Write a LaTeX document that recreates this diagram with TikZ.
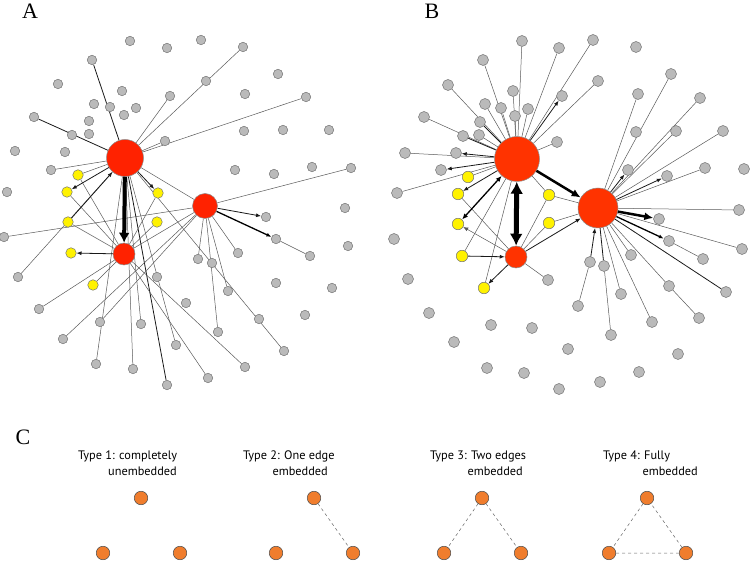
\documentclass[tikz,border=0pt]{standalone}
\usepackage{fontspec}
\setmainfont{Liberation Serif}
\newfontfamily\typefont{PT Sans}
\usetikzlibrary{arrows.meta,backgrounds}
\definecolor{hubA}{RGB}{255,34,0}
\definecolor{hubB}{RGB}{255,51,0}
\definecolor{motif}{RGB}{240,125,45}

\begin{document}
\begin{tikzpicture}[x=1pt, y=-1pt,
    gn/.style={circle, draw=black!55, fill=black!27, line width=0.5pt, inner sep=0pt, minimum size=9.5pt},
    gb/.style={gn, minimum size=11pt},
    yn/.style={circle, draw=black!55, fill=yellow, line width=0.5pt, inner sep=0pt, minimum size=10.5pt},
    yb/.style={yn, minimum size=11.5pt},
    rn/.style={circle, draw=black!45, line width=0.5pt, inner sep=0pt},
    on/.style={circle, draw=black!70, fill=motif, line width=0.5pt, inner sep=0pt, minimum size=13.5pt},
    ed/.style={draw=black!65, line width=0.5pt},
    dk/.style={draw=black!90, line width=0.8pt},
    ar/.style={-{Latex[length=5pt,width=4pt]}},
    dsh/.style={draw=black!60, line width=0.5pt, dash pattern=on 3pt off 3pt},
    lbl/.style={font=\fontsize{22}{22}\selectfont},
    typ/.style={font=\typefont\fontsize{12.3}{16}\selectfont, inner sep=0pt}
  ]
  \useasboundingbox (0,0) rectangle (750,561);

  % panel labels
  \node[lbl] (labA) at (30,11) {A};
  \node[lbl] (labB) at (432,11) {B};
  \node[lbl] (labC) at (23,437) {C};

  % ---- panel A ----
  \foreach \n/\x/\y in {1/130/41, 2/167/48, 3/92/60, 4/58/84, 5/122/91, 6/170/96,
      7/94/104, 8/110/107, 9/136/108, 10/124/115, 11/34/117, 12/89/121, 13/72/135,
      14/89/134, 15/165/141, 16/15/151, 17/65/152, 18/51/170, 19/201/40, 20/243/47,
      21/206/81, 22/278/74, 23/245/94, 24/306/97, 25/244/131, 26/283/130, 27/329/130,
      28/235/170, 29/274/174, 30/312/167, 31/351/168, 32/7/192, 33/4/237, 34/18/277,
      35/266/217, 36/345/208, 37/276/239, 38/310/256, 39/348/246, 40/198/259,
      41/212/263, 42/238/253, 43/276/283, 44/332/288, 45/228/291, 46/186/303,
      47/157/277, 48/305/315, 49/259/319, 50/218/332, 51/39/309, 52/63/339,
      53/100/322, 54/96/364, 55/133/369, 56/141/324, 57/167/385, 58/176/345,
      59/208/378, 60/245/367, 61/284/351}
    \node[gn] (a\n) at (\x,\y) {};
  \foreach \n/\x/\y in {1/78/175, 2/67/192, 3/158/193, 4/68/222, 5/157/222, 6/71/253, 7/93/285}
    \node[yn] (ay\n) at (\x,\y) {};
  \node[rn, fill=hubA, minimum size=37pt] (A1) at (125,158) {};
  \node[rn, fill=hubA, minimum size=22pt] (A2) at (124,254) {};
  \node[rn, fill=hubA, minimum size=25pt] (A3) at (205,206) {};

  \begin{pgfonlayer}{background}
    \foreach \t in {a6,a20,a15,a24,a18,a54,a55,a56,a58,a61,a34,ay1,A3}
      \draw[ed] (A1) -- (\t);
    \foreach \t in {a3,a11,a57}
      \draw[dk] (A1) -- (\t);
    \foreach \t in {a51,a59,a60,ay1,ay2,ay3,ay4,ay5,ay7,A3}
      \draw[ed] (A2) -- (\t);
    \foreach \t in {a31,a33,a40,a42,a45,a50,a52,a53}
      \draw[ed] (A3) -- (\t);
    \draw[ed] (a37) -- (a38);
  \end{pgfonlayer}
  \draw[-{Latex[length=10pt,width=11pt]}, line width=4pt] (A1) -- (A2);
  \draw[dk, ar] (A2) -- (ay6);
  \draw[dk, ar] (A1) -- (ay2);
  \draw[dk, ar] (A1) -- (ay3);
  \draw[dk, ar] (ay4) -- (A1);
  \draw[dk, ar] (A3) -- (a35);
  \draw[ar, line width=1.3pt] (A3) -- (a37);

  % ---- panel B ----
  \foreach \n/\x/\y in {1/522/41, 2/559/48, 3/483/60, 4/448/85, 5/513/91, 6/562/96,
      7/485/104, 8/501/108, 9/528/109, 10/424/117, 11/480/122, 12/515/116,
      13/463/136, 14/479/135, 15/557/142, 16/405/153, 17/456/153, 18/441/170,
      19/593/40, 20/636/47, 21/598/81, 22/671/74, 23/638/94, 24/700/98,
      25/636/132, 26/676/131, 27/723/131, 28/628/170, 29/705/168, 30/744/169,
      31/667/176, 32/739/210, 33/659/219, 34/669/241, 35/742/249, 36/703/259,
      37/631/255, 38/590/262, 39/604/266, 40/669/286, 41/726/292, 42/621/294,
      43/578/306, 44/699/318, 45/652/322, 46/611/335, 47/397/193, 48/394/239,
      49/408/279, 50/548/280, 51/429/313, 52/491/325, 53/532/328, 54/454/342,
      55/568/349, 56/487/368, 57/524/373, 58/559/389, 59/600/382, 60/639/372,
      61/678/354}
    \node[gb] (b\n) at (\x,\y) {};
  \foreach \n/\x/\y in {1/468/177, 2/458/194, 3/549/195, 4/458/224, 5/549/223, 6/462/256, 7/484/288}
    \node[yb] (by\n) at (\x,\y) {};
  \node[rn, fill=hubB, minimum size=45pt] (B1) at (517,159) {};
  \node[rn, fill=hubB, minimum size=40pt] (B2) at (598,208) {};
  \node[rn, fill=hubB, minimum size=22pt] (B3) at (516,257) {};

  \begin{pgfonlayer}{background}
    \foreach \t in {b1,b2,b3,b4,b5,b7,b8,b9,b10,b12,b14,b15,b16,b19,b21,b47,by1,by3,by6,by7}
      \draw[ed] (B1) -- (\t);
    \foreach \t in {b11,b13}
      \draw[dk] (B1) -- (\t);
    \foreach \t in {by2,b50,by3,by5}
      \draw[ed] (B3) -- (\t);
    \foreach \t in {b22,b23,b24,b26,b27,b29,b32,b35,b37,b42,b45,b40,by3,by5}
      \draw[ed] (B2) -- (\t);
    \foreach \t in {b41,b39}
      \draw[dk] (B2) -- (\t);
    \draw[ed] (b34) -- (b36);
    \draw[ed] (b40) -- (b44);
    \draw[ed] (b43) -- (b38);
    \draw[ed] (b46) -- (b39);
  \end{pgfonlayer}
  \foreach \t in {b6,b17,b18,by2}
    \draw[dk, ar] (B1) -- (\t);
  \draw[{Latex[length=6pt,width=5pt]}-{Latex[length=6pt,width=5pt]}, line width=1.3pt] (by4) -- (B1);
  \draw[{Latex[length=12pt,width=13pt]}-{Latex[length=12pt,width=13pt]}, line width=5pt] (B1) -- (B3);
  \draw[-{Latex[length=9pt,width=8pt]}, line width=2.5pt] (B1) -- (B2);
  \draw[dk, ar] (B3) -- (by7);
  \draw[dk, ar] (by6) -- (B3);
  \draw[ed, ar] (B3) -- (by4);
  \draw[dk, ar] (B3) -- (B2);
  \foreach \t in {b28,b31}
    \draw[dk, ar] (B2) -- (\t);
  \draw[ar, line width=1.3pt] (B2) -- (b34);
  \draw[-{Latex[length=9pt,width=8pt]}, line width=2.5pt] (B2) -- (b33);
  \draw[dk, ar] (b38) -- (B2);

  % ---- panel C ----
  \node[typ, anchor=base west] (t1a) at (78,459) {Type 1: completely};
  \node[typ, anchor=base east] (t1b) at (177,475) {unembedded};
  \node[typ, anchor=base west] (t2a) at (243,459) {Type 2: One edge};
  \node[typ, anchor=base east] (t2b) at (328,475) {embedded};
  \node[typ, anchor=base west] (t3a) at (430,459) {Type 3: Two edges};
  \node[typ, anchor=base east] (t3b) at (523,475) {embedded};
  \node[typ, anchor=base west] (t4a) at (603,459) {Type 4: Fully};
  \node[typ, anchor=base east] (t4b) at (698,475) {embedded};

  \foreach \k/\x in {1/141, 2/314, 3/482, 4/647} {
    \node[on] (c\k t) at (\x,498) {};
    \node[on] (c\k l) at (\x-38,553) {};
    \node[on] (c\k r) at (\x+39,553) {};
  }
  \begin{pgfonlayer}{background}
    \draw[dsh] (c2t) -- (c2r);
    \draw[dsh] (c3t) -- (c3l);
    \draw[dsh] (c3t) -- (c3r);
    \draw[dsh] (c4t) -- (c4l) -- (c4r) -- (c4t);
  \end{pgfonlayer}
\end{tikzpicture}
\end{document}
